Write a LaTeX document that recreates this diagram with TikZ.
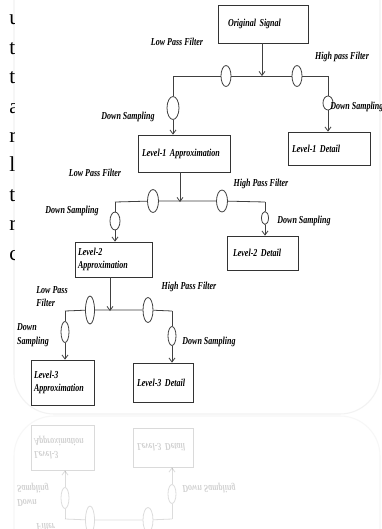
\documentclass[tikz,border=0pt]{standalone}
\usepackage{fontspec}
\usetikzlibrary{shapes.geometric, arrows.meta, positioning, calc}
\newfontfamily\labfont[FakeStretch=0.75]{Liberation Serif}
\newfontfamily\pagefont{Liberation Serif}
\newcommand{\labtext}{\labfont\bfseries\itshape\fontsize{8}{10}\selectfont\hyphenpenalty=10000 }

% last split (level-2 approximation into level-3), reused for the mirror image
\newcommand{\lowbranch}[1]{%
  \coordinate (#1lo) at (65,311);
  \coordinate (#1j) at (110,311);
  \coordinate (#1ro) at (172,311);
  \node[ring, sz={9}{28}] (#1lpf) at (90,310) {};
  \node[ring, sz={10}{25}] (#1hpf) at (148,310) {};
  \node[ring, sz={8}{21}] (#1lds) at (65,332) {};
  \node[ring, sz={8}{19}] (#1hds) at (172,336) {};
  \node[box, bsz={63}{45}{57}] (#1app) at (62.5,382.5) {Level-3\\Approximation};
  \node[box, bsz={60}{39}{52}] (#1det) at (163,382.5) {Level-3 Detail};
  \draw[wire] (#1lo) -- (#1lpf) (#1lpf) -- (#1hpf) (#1hpf) -- (#1ro);
  \draw[wire] (#1lo) -- (#1lds) (#1ro) -- (#1hds);
  \draw[arrow] (#1lds) -- (#1lds |- #1app.north);
  \draw[arrow] (#1hds) -- (#1hds |- #1det.north);
  \node[lab] (#1lpt) at (52,296.5) {Low Pass\\Filter};
  \node[lab] (#1hpt) at (189,287) {High Pass Filter};
  \node[lab] (#1ldt) at (33,335) {Down\\Sampling};
  \node[lab] (#1hdt) at (209,342) {Down Sampling};
}

\begin{document}
\begin{tikzpicture}[
    x=0.75pt, y=-0.75pt,
    >={Straight Barb[length=3pt,width=4.5pt]},
    sz/.style 2 args={minimum width=#1*0.75pt, minimum height=#2*0.75pt},
    bsz/.style n args={3}{minimum width=#1*0.75pt, minimum height=#2*0.75pt, text width=#3*0.75pt},
    box/.style={rectangle, draw=black!80, line width=0.6pt, align=left, inner sep=0pt, font=\labtext},
    ring/.style={ellipse, draw=black!75, line width=0.6pt, fill=white, inner sep=0pt},
    lab/.style={font=\labtext, align=left, inner sep=0pt},
    wire/.style={black!75, line width=0.6pt},
    arrow/.style={wire, ->},
    frag/.style={font=\pagefont\fontsize{16}{16}\selectfont, inner sep=0pt}
]
\clip (0,0) rectangle (382,529);
\fill[white] (0,0) rectangle (382,529);

% faint frame of the page and of its mirror image
\draw[gray!10, line width=0.8pt, rounded corners=30pt] (14,-40) rectangle (380,414);
\draw[gray!6, line width=0.8pt, rounded corners=30pt] (14,416) rectangle (380,880);

% cut-off text of the page at the left
\begin{scope}
  \clip (0,0) rectangle (14.5,529);
  \foreach \ch [count=\k from 0] in {u,t,t,a,r,l,t,r,c}
    \node[frag, anchor=mid west] (frag\k) at (9, 22+29.4*\k) {\ch};
\end{scope}

% Boxes
\node[box, bsz={90}{38}{70}] (orig) at (263,24) {Original Signal};
\node[box, bsz={92}{37}{84}] (app1) at (184,153.5) {Level-1 Approximation};
\node[box, bsz={82}{33}{74}] (det1) at (329,148.5) {Level-1 Detail};
\node[box, bsz={77}{35}{71}] (app2) at (113.5,259.5) {Level-2\\Approximation};
\node[box, bsz={71}{34}{59}] (det2) at (262.5,253) {Level-2 Detail};

% First split
\coordinate (lo0) at (173,76);
\coordinate (j0) at (262,76);
\coordinate (ro0) at (328,76);
\node[ring, sz={10}{21}] (lpf0) at (226,76) {};
\node[ring, sz={10}{21}] (hpf0) at (297,76) {};
\node[ring, sz={12}{23}] (lds0) at (173,108) {};
\node[ring, sz={10}{14}] (hds0) at (328,103) {};
\draw[arrow] (j0 |- orig.south) -- (j0);
\draw[wire] (lo0) -- (lpf0) (lpf0) -- (hpf0) (hpf0) -- (ro0);
\draw[wire] (lo0) -- (lds0) (ro0) -- (hds0);
\draw[arrow] (lds0) -- (lds0 |- app1.north);
\draw[arrow] (hds0) -- (hds0 |- det1.north);
\node[lab] (lpt0) at (177,42) {Low Pass Filter};
\node[lab] (hpt0) at (342,57) {High pass Filter};
\node[lab] (ldt0) at (128,117) {Down Sampling};
\node[lab, anchor=west] (hdt0) at (330,107) {Down Sampling};

% Second split
\coordinate (lo1) at (115,202);
\coordinate (j1) at (180,202);
\coordinate (ro1) at (265,202);
\node[ring, sz={11}{23}] (lpf1) at (153,201) {};
\node[ring, sz={11}{22}] (hpf1) at (222,201) {};
\node[ring, sz={10}{18}] (lds1) at (115,221) {};
\node[ring, sz={7}{13}] (hds1) at (265,218) {};
\draw[arrow] (j1 |- app1.south) -- (j1);
\draw[wire] (lo1) -- (lpf1) (lpf1) -- (hpf1) (hpf1) -- (ro1);
\draw[wire] (lo1) -- (lds1) (ro1) -- (hds1);
\draw[arrow] (lds1) -- (lds1 |- app2.north);
\draw[arrow] (hds1) -- (hds1 |- det2.north);
\node[lab] (lpt1) at (95,173) {Low Pass Filter};
\node[lab] (hpt1) at (261,184) {High Pass Filter};
\node[lab] (ldt1) at (72,211) {Down Sampling};
\node[lab] (hdt1) at (304,221) {Down Sampling};

% Third split
\lowbranch{l3}
\draw[arrow] (l3j |- app2.south) -- (l3j);

% mirror image below
\begin{scope}[shift={(0,830)}, yscale=-1, transform shape, opacity=0.18]
  \lowbranch{m}
\end{scope}

\end{tikzpicture}
\end{document}
